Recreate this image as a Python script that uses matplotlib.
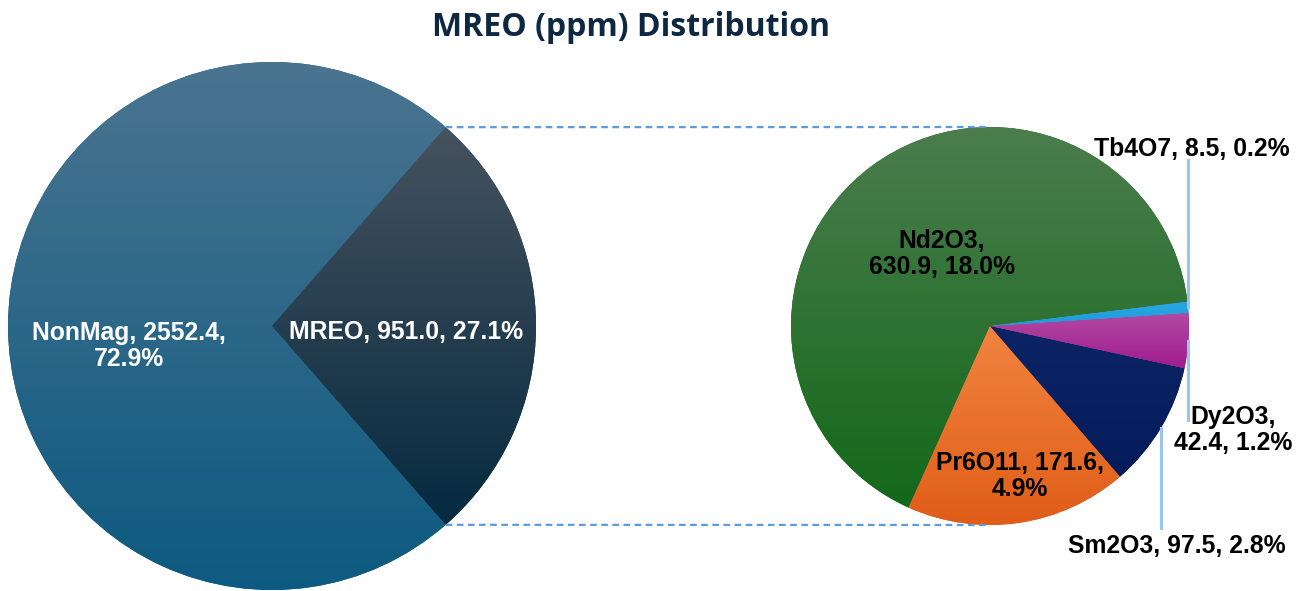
import numpy as np
import matplotlib
matplotlib.use("Agg")
from matplotlib import pyplot as plt
from matplotlib.colors import to_rgba

# --- data ---
main_labels = ["NonMag", "MREO"]
main_values = [2552.4, 951.0]
main_pcts = ["72.9%", "27.1%"]

sub_labels = ["Nd2O3", "Pr6O11", "Sm2O3", "Dy2O3", "Tb4O7"]
sub_values = [630.9, 171.6, 97.5, 42.4, 8.5]
sub_pcts = ["18.0%", "4.9%", "2.8%", "1.2%", "0.2%"]

# gradient colours (top, bottom) for each slice
main_colors = [("#4a7490", "#0d5a80"), ("#46525e", "#052a40")]
sub_colors = [("#4b7d4d", "#13681a"), ("#f0843f", "#e05d18"),
              ("#0c2463", "#041c5c"), ("#b24aa2", "#a01c90"),
              ("#2aa8e2", "#1a9cdc")]

W, H = 1312, 591
fig = plt.figure(figsize=(W / 100, H / 100), dpi=100)
ax = fig.add_axes([0, 0, 1, 1])

def Y(y):
    # pixel row (from top) -> data y
    return H - y

c1, r1 = (272, Y(326)), 264
c2, r2 = (990, Y(326)), 199

start1 = 180 * main_values[1] / sum(main_values)
w1, _ = ax.pie(main_values, center=c1, radius=r1, startangle=start1,
               counterclock=True, wedgeprops=dict(linewidth=0))
w2, _ = ax.pie(sub_values, center=c2, radius=r2, startangle=7,
               counterclock=True, wedgeprops=dict(linewidth=0))

def gradient_fill(wedge, top, bottom):
    ext = wedge.get_path().get_extents()
    t = np.linspace(0, 1, 256)[:, None]
    a, b = np.array(to_rgba(bottom)), np.array(to_rgba(top))
    img = (a[None, :] * (1 - t) + b[None, :] * t)[:, None, :]
    wedge.set_facecolor(bottom)
    im = ax.imshow(img, extent=(ext.x0, ext.x1, ext.y0, ext.y1),
                   origin="lower", aspect="auto", interpolation="bilinear",
                   zorder=wedge.get_zorder() + 0.1)
    im.set_clip_path(wedge)

for w, (top, bot) in zip(w1, main_colors):
    gradient_fill(w, top, bot)
for w, (top, bot) in zip(w2, sub_colors):
    gradient_fill(w, top, bot)

# connector lines between the two pies
th = np.deg2rad(start1)
for s in (1, -1):
    x0 = c1[0] + r1 * np.cos(th)
    y0 = c1[1] + s * r1 * np.sin(th)
    ax.plot([x0, c2[0]], [y0, c2[1] + s * r2], ls=(0, (3, 2)),
            color="#5b9be0", lw=1.6, zorder=5)

font = dict(family=["Liberation Sans", "DejaVu Sans"], fontweight="bold",
            fontsize=17.8, ha="center", va="center", zorder=10)

# main pie labels
ax.text(129, Y(346), f"{main_labels[0]}, {main_values[0]:.1f},\n{main_pcts[0]}",
        color="white", linespacing=1.1, **font)
ax.text(406, Y(332), f"{main_labels[1]}, {main_values[1]:.1f}, {main_pcts[1]}",
        color="white", **font)

# sub pie labels
def lab(i, sep=", "):
    return f"{sub_labels[i]}{sep}{sub_values[i]:.1f}, {sub_pcts[i]}"

ax.text(942, Y(254), lab(0, ",\n"), color="black", linespacing=1.1, **font)
ax.text(1020, Y(476), f"{sub_labels[1]}, {sub_values[1]:.1f},\n{sub_pcts[1]}",
        color="black", linespacing=1.1, **font)
ax.text(1233, Y(430), lab(3, ",\n"), color="black", linespacing=1.1, **font)
ax.text(1177, Y(546), lab(2), color="black", **font)
ax.text(1192, Y(149), lab(4), color="black", **font)

# leader lines from slice mid-points
fr = np.array(sub_values) / sum(sub_values)
edges = 7 + 360 * np.concatenate([[0], np.cumsum(fr)])
mids = np.deg2rad((edges[:-1] + edges[1:]) / 2)
lead_end = {4: Y(160), 3: Y(420), 2: Y(528)}
for i, yend in lead_end.items():
    xm = c2[0] + r2 * np.cos(mids[i])
    ym = c2[1] + r2 * np.sin(mids[i])
    ax.plot([xm, xm], [ym, yend], color="#9cc3ea", lw=2.2, zorder=6)

ax.text(W / 2 - 25, Y(27), "MREO (ppm) Distribution", ha="center", va="center",
        fontsize=23, fontweight="bold", color="#0e2841",
        family=["Open Sans", "DejaVu Sans"])

ax.set_xlim(0, W)
ax.set_ylim(0, H)
ax.set_aspect("equal")
ax.axis("off")
fig.savefig("out.png", dpi=100, facecolor="white")
